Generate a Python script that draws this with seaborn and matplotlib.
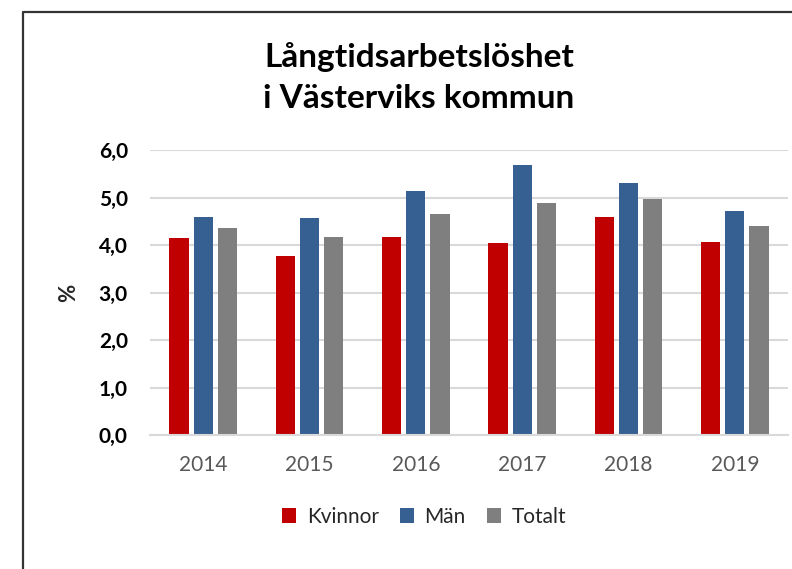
import matplotlib
matplotlib.use("Agg")
import matplotlib.pyplot as plt
from matplotlib.lines import Line2D
from matplotlib.patches import Patch
import seaborn as sns
import pandas as pd

years = ["2014", "2015", "2016", "2017", "2018", "2019"]
kvinnor = [4.14, 3.77, 4.18, 4.04, 4.59, 4.07]
man = [4.59, 4.57, 5.13, 5.69, 5.31, 4.72]
totalt = [4.37, 4.17, 4.66, 4.89, 4.96, 4.40]
series_names = ["Kvinnor", "Män", "Totalt"]
yticks = [0, 1, 2, 3, 4, 5, 6]
ytick_labels = ["0,0", "1,0", "2,0", "3,0", "4,0", "5,0", "6,0"]
title = "Långtidsarbetslöshet\ni Västerviks kommun"

colors = ["#C00000", "#376092", "#7F7F7F"]

rows = []
for name, vals in zip(series_names, [kvinnor, man, totalt]):
    for y, v in zip(years, vals):
        rows.append({"År": y, "Serie": name, "Värde": v})
df = pd.DataFrame(rows)

sns.set_theme(style="white")
plt.rcParams["font.family"] = ["Lato", "DejaVu Sans"]

fig = plt.figure(figsize=(7.92, 5.69), dpi=100)
ax = fig.add_axes([150 / 792, 1 - 435.3 / 569, (788 - 150) / 792, (435.3 - 150) / 569])

sns.barplot(data=df, x="År", y="Värde", hue="Serie", order=years, hue_order=series_names,
            palette=colors, width=0.68, gap=0.2, ax=ax, legend=False,
            edgecolor="none", saturation=1)

ax.set_ylim(0, 6)
ax.set_xlim(-0.5, len(years) - 0.5)
ax.set_yticks(yticks)
ax.set_yticklabels(ytick_labels, fontsize=15, fontweight="bold", color="#000000")
ax.tick_params(axis="y", length=0, pad=16)
ax.tick_params(axis="x", length=0, pad=14, labelsize=15, labelcolor="#595959")
ax.set_xlabel("")
ax.set_ylabel("%", fontsize=16, fontweight="bold", labelpad=0)
ax.yaxis.set_label_coords(-(150 - 79) / 638, 0.5)
ax.grid(axis="y", color="#D9D9D9", linewidth=1.5)
ax.set_axisbelow(True)
for s in ["top", "right", "left"]:
    ax.spines[s].set_visible(False)
ax.spines["bottom"].set_color("#D9D9D9")
ax.spines["bottom"].set_linewidth(1.5)

fig.text(419 / 792, 1 - 78 / 569, title, ha="center", va="center", fontsize=24,
         fontweight="bold", linespacing=1.5, color="#000000")

handles = [Patch(facecolor=c, edgecolor="none") for c in colors]
fig.legend(handles, series_names, loc="center", bbox_to_anchor=(424 / 792, 1 - 517 / 569),
           ncol=3, frameon=False, fontsize=15, handlelength=0.7, handleheight=0.7,
           handletextpad=0.5, columnspacing=1.0)

# outer frame (left and top visible)
fig.add_artist(Line2D([23 / 792, 23 / 792, 1.0], [0.0, 1 - 12 / 569, 1 - 12 / 569],
                      transform=fig.transFigure, color="#333333", linewidth=1.6))

fig.savefig("out.png", dpi=100)
